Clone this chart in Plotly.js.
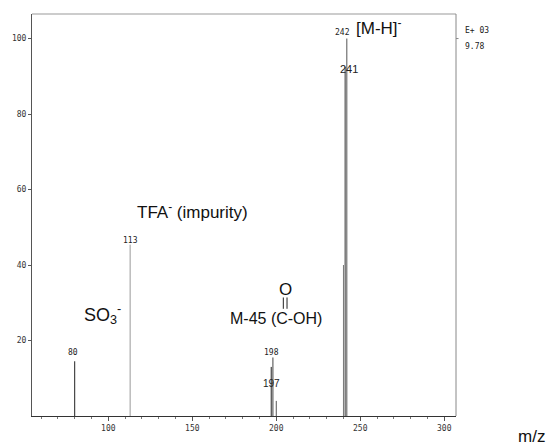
<!DOCTYPE html>
<html>
<head>
<meta charset="utf-8">
<script src="https://cdn.plot.ly/plotly-3.0.1.min.js"></script>
<style>html,body{margin:0;padding:0;background:#fff;}#chart{width:550px;height:445px;}</style>
</head>
<body>
<div id="chart"></div>
<script>
// ---- data ----
var mz        = [80, 113, 197, 198, 200, 240, 241, 242];
var intensity = [14.5, 45.4, 13, 15.5, 4, 40, 92.5, 100];
var peakLabels = ["80", "113", "197", "198", "241", "242"];
var peakLabelMz = [80, 113, 197, 198, 241, 242];
var xTicks = [100, 150, 200, 250, 300];
var yTicks = [20, 40, 60, 80, 100];

// ---- styling ----
var peakColor = {80:"#222", 113:"#999", 197:"#222", 198:"#444", 200:"#555", 240:"#777", 241:"#333", 242:"#555"};
var mono = "DejaVu Sans Mono, monospace";
var sans = "Liberation Sans, Arial, sans-serif";

var traces = mz.map(function(m, i){
  return {
    type: "scatter", mode: "lines",
    x: [m, m], y: [0, intensity[i]],
    line: {color: peakColor[m] || "#333", width: 1},
    hoverinfo: "skip", showlegend: false
  };
});

// label placement (data coords) for each peak label
var labelPos = {
  "80":  {x: 78.8,  y: 16.8, size: 8,  font: mono},
  "113": {x: 113.3, y: 46.6, size: 8,  font: mono},
  "198": {x: 197.4, y: 16.7, size: 8,  font: mono},
  "197": {x: 197.4, y: 8.7,  size: 10, font: sans},
  "242": {x: 239.7, y: 101.5, size: 8, font: mono},
  "241": {x: 243.3, y: 91.9, size: 11, font: sans}
};

var annotations = peakLabels.map(function(t, i){
  var p = labelPos[t];
  return {x: p.x, y: p.y, xref: "x", yref: "y", text: t, showarrow: false,
          xanchor: "center", yanchor: "middle",
          font: {family: p.font, size: p.size, color: "#222"}};
});

annotations = annotations.concat([
  {x: 150.4, y: 54.3, xref: "x", yref: "y", text: "TFA<sup>-</sup> (impurity)", showarrow: false,
   xanchor: "center", yanchor: "middle", font: {family: sans, size: 17, color: "#111"}},
  {x: 96.5, y: 26.8, xref: "x", yref: "y", text: "SO<sub>3</sub><sup>-</sup>", showarrow: false,
   xanchor: "center", yanchor: "middle", font: {family: sans, size: 18, color: "#111"}},
  {x: 200, y: 25.7, xref: "x", yref: "y", text: "M-45 (C-OH)", showarrow: false,
   xanchor: "center", yanchor: "middle", font: {family: sans, size: 16, color: "#111"}},
  {x: 205.2, y: 33.6, xref: "x", yref: "y", text: "O", showarrow: false,
   xanchor: "center", yanchor: "middle", font: {family: sans, size: 17, color: "#111"}},
  {x: 261.1, y: 103, xref: "x", yref: "y", text: "[M-H]<sup>-</sup>", showarrow: false,
   xanchor: "center", yanchor: "middle", font: {family: sans, size: 17, color: "#111"}},
  {x: 1.0165, y: 0.958, xref: "paper", yref: "paper", text: "E+ 03", showarrow: false,
   xanchor: "left", yanchor: "middle", font: {family: mono, size: 8, color: "#222"}},
  {x: 1.0165, y: 0.918, xref: "paper", yref: "paper", text: "9.78", showarrow: false,
   xanchor: "left", yanchor: "middle", font: {family: mono, size: 8, color: "#222"}},
  {x: 1.177, y: -0.05, xref: "paper", yref: "paper", text: "m/z", showarrow: false,
   xanchor: "center", yanchor: "middle", font: {family: sans, size: 17, color: "#111"}}
]);

var shapes = [
  // carbonyl double bond
  {type: "line", xref: "x", yref: "y", x0: 204.2, x1: 204.2, y0: 28.4, y1: 31.4, line: {color: "#222", width: 1}},
  {type: "line", xref: "x", yref: "y", x0: 206.4, x1: 206.4, y0: 28.4, y1: 31.4, line: {color: "#222", width: 1}},
  // top and right frame
  {type: "line", xref: "paper", yref: "paper", x0: 0, x1: 1, y0: 1, y1: 1, line: {color: "#999", width: 1}},
  {type: "line", xref: "paper", yref: "paper", x0: 1, x1: 1, y0: 0, y1: 1, line: {color: "#888", width: 1}},
  {type: "line", xref: "paper", yref: "y", x0: 1, x1: 1.006, y0: 100, y1: 100, line: {color: "#888", width: 1}}
];

var layout = {
  width: 550, height: 445,
  margin: {l: 32, r: 94, t: 14, b: 29},
  paper_bgcolor: "#fff", plot_bgcolor: "#fff",
  showlegend: false,
  xaxis: {
    range: [54.58, 307.0], showgrid: false, zeroline: false,
    showline: true, linecolor: "#333", linewidth: 1,
    tickmode: "array", tickvals: xTicks, ticktext: xTicks.map(String),
    ticks: "outside", ticklen: 4, tickcolor: "#555", tickwidth: 1,
    minor: {dtick: 10, ticks: "outside", ticklen: 2, tickcolor: "#777", showgrid: false},
    tickfont: {family: mono, size: 8, color: "#333"}
  },
  yaxis: {
    range: [0, 106.5], showgrid: false, zeroline: false,
    showline: true, linecolor: "#555", linewidth: 1,
    tickmode: "array", tickvals: yTicks, ticktext: yTicks.map(String),
    ticks: "outside", ticklen: 3, tickcolor: "#555", tickwidth: 1,
    tickfont: {family: mono, size: 8, color: "#333"}
  },
  annotations: annotations,
  shapes: shapes
};

Plotly.newPlot("chart", traces, layout, {staticPlot: true, displayModeBar: false});
</script>
</body>
</html>
